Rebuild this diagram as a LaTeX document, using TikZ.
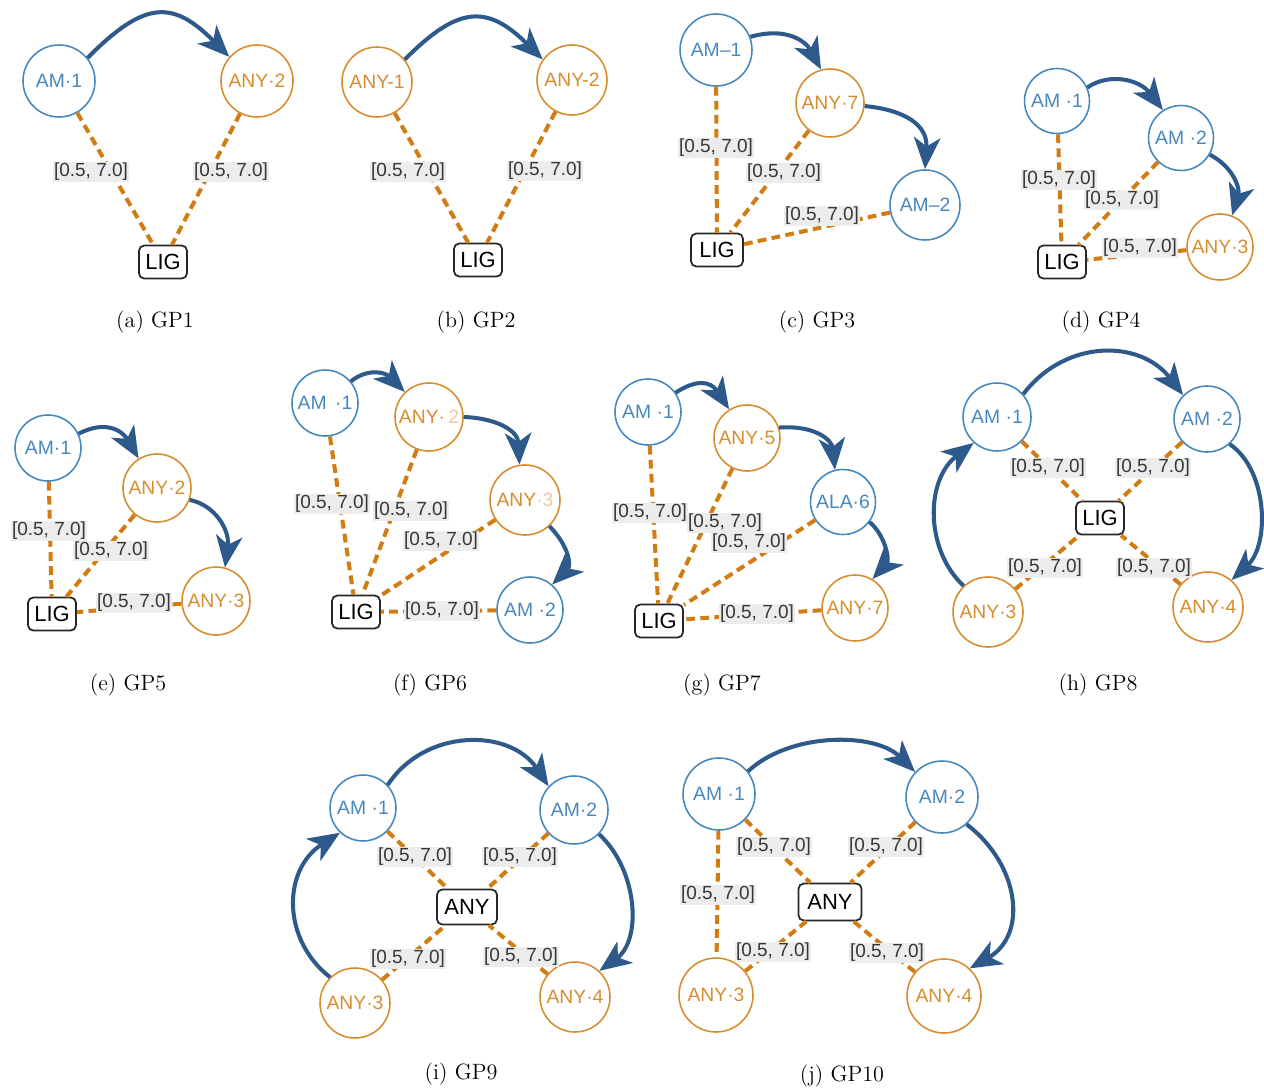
\documentclass[tikz,border=0pt]{standalone}
\usepackage{fontspec}
\newfontfamily\graphfont{Liberation Sans}
\usetikzlibrary{arrows.meta}
\definecolor{amblue}{RGB}{70,135,190}
\definecolor{anyorange}{RGB}{215,140,45}
\definecolor{anyfaint}{RGB}{238,200,160}
\definecolor{bondorange}{RGB}{210,125,20}
\definecolor{seqblue}{RGB}{45,90,138}
\definecolor{rangegray}{RGB}{236,236,236}
\definecolor{rangetext}{RGB}{55,55,55}
\tikzset{
  res/.style={circle, draw, line width=0.9pt, inner sep=0pt, minimum size=#1,
    font=\graphfont\fontsize{11}{13}\selectfont},
  res/.default=1.44cm,
  am/.style={res=#1, draw=amblue, text=amblue},
  am/.default=1.44cm,
  any/.style={res=#1, draw=anyorange, text=anyorange},
  any/.default=1.44cm,
  lig/.style={draw=black!85, line width=1pt, rounded corners=3pt, minimum width=#1,
    minimum height=0.66cm, inner sep=1pt, font=\graphfont\fontsize{12.5}{14}\selectfont},
  lig/.default=0.96cm,
  bond/.style={bondorange, line width=2.3pt, dash pattern=on 5pt off 3pt},
  seq/.style={seqblue, line width=2.3pt, -{Stealth[length=18pt,width=15pt,inset=5pt]}},
  rng/.style={fill=rangegray, text=rangetext, inner sep=0.6pt,
    font=\graphfont\fontsize{10.8}{12}\selectfont},
  subcap/.style={font=\fontsize{12.6}{14}\selectfont}
}
\begin{document}
\begin{tikzpicture}[x=0.02cm, y=-0.02cm]
    \useasboundingbox (0,0) rectangle (1264,1088);

    % (a) GP1
    \node[am] (a1) at (59,81) {AM·1};
    \node[any] (a2) at (257,81) {ANY·2};
    \node[lig] (aL) at (163,262) {LIG};
    \draw[bond] (a1) -- (aL);
    \draw[bond] (a2) -- (aL);
    \draw[seq] (a1.39) .. controls (145,0) and (173,0) .. (a2.139);
    \node[rng] (aR1) at (91,172) {[0.5, 7.0]};
    \node[rng] (aR2) at (231,172) {[0.5, 7.0]};
    \node[subcap] (aC) at (155,322) {(a) GP1};

    % (b) GP2
    \node[any=1.4cm] (b1) at (377,82) {ANY-1};
    \node[any=1.4cm] (b2) at (572,80) {ANY-2};
    \node[lig] (bL) at (478,260) {LIG};
    \draw[bond] (b1) -- (bL);
    \draw[bond] (b2) -- (bL);
    \draw[seq] (b1.39) .. controls (458,6) and (487,4) .. (b2.145);
    \node[rng] (bR1) at (408,172) {[0.5, 7.0]};
    \node[rng] (bR2) at (545,171) {[0.5, 7.0]};
    \node[subcap] (bC) at (476,322) {(b) GP2};

    % (c) GP3
    \node[am] (c1) at (716,50) {AM–1};
    \node[any=1.36cm] (c2) at (830,103) {ANY·7};
    \node[am=1.4cm] (c3) at (925,205) {AM–2};
    \node[lig=1.04cm] (cL) at (717,250) {LIG};
    \draw[bond] (c1) -- (cL);
    \draw[bond] (c2) -- (cL);
    \draw[bond] (c3) -- (cL);
    \draw[seq] (c1.21) .. controls (785,27) and (805,40) .. (c2.105);
    \draw[seq] (c2.-5) .. controls (905,110) and (928,125) .. (c3.90);
    \node[rng] (cR1) at (716,148) {[0.5, 7.0]};
    \node[rng] (cR2) at (784,173) {[0.5, 7.0]};
    \node[rng] (cR3) at (822,216) {[0.5, 7.0]};
    \node[subcap] (cC) at (817,322) {(c) GP3};

    % (d) GP4
    \node[am=1.3cm] (d1) at (1057,101) {AM ·1};
    \node[am=1.3cm] (d2) at (1181,138) {AM ·2};
    \node[any=1.32cm] (d3) at (1220,247) {ANY·3};
    \node[lig] (dL) at (1062,262) {LIG};
    \draw[bond] (d1) -- (dL);
    \draw[bond] (d2) -- (dL);
    \draw[bond] (d3) -- (dL);
    \draw[seq] (d1.24) .. controls (1110,72) and (1140,80) .. (d2.123);
    \draw[seq] (d2.-30) .. controls (1235,168) and (1240,190) .. (d3.69);
    \node[rng] (dR1) at (1059,180) {[0.5, 7.0]};
    \node[rng] (dR2) at (1122,200) {[0.5, 7.0]};
    \node[rng] (dR3) at (1140,248) {[0.5, 7.0]};
    \node[subcap] (dC) at (1101,322) {(d) GP4};

    % (e) GP5
    \node[am=1.32cm] (e1) at (48,448) {AM·1};
    \node[any=1.36cm] (e2) at (157,488) {ANY·2};
    \node[any=1.36cm] (e3) at (216,601) {ANY·3};
    \node[lig] (eL) at (52,614) {LIG};
    \draw[bond] (e1) -- (eL);
    \draw[bond] (e2) -- (eL);
    \draw[bond] (e3) -- (eL);
    \draw[seq] (e1.25) .. controls (105,420) and (122,430) .. (e2.122);
    \draw[seq] (e2.-20) .. controls (215,505) and (230,530) .. (e3.75);
    \node[rng] (eR1) at (49,531) {[0.5, 7.0]};
    \node[rng] (eR2) at (111,551) {[0.5, 7.0]};
    \node[rng] (eR3) at (134,603) {[0.5, 7.0]};
    \node[subcap] (eC) at (128,685) {(e) GP5};

    % (f) GP6
    \node[am=1.32cm] (f1) at (325,403) {AM \,·1};
    \node[any=1.36cm] (f2) at (429,417) {ANY·\,\textcolor{anyfaint}{2}};
    \node[any=1.4cm] (f3) at (525,500) {ANY\textcolor{anyfaint}{·3}};
    \node[am=1.32cm] (f4) at (530,610) {AM ·2};
    \node[lig] (fL) at (356,612) {LIG};
    \draw[bond] (f1) -- (fL);
    \draw[bond] (f2) -- (fL);
    \draw[bond] (f3) -- (fL);
    \draw[bond] (f4) -- (fL);
    \draw[seq] (f1.40) .. controls (368,368) and (385,372) .. (f2.134);
    \draw[seq] (f2.0) .. controls (495,418) and (518,430) .. (f3.99);
    \draw[seq] (f3.-47) .. controls (568,545) and (572,565) .. (f4.49);
    \node[rng] (fR1) at (332,504) {[0.5, 7.0]};
    \node[rng] (fR2) at (411,511) {[0.5, 7.0]};
    \node[rng] (fR3) at (441,541) {[0.5, 7.0]};
    \node[rng] (fR4) at (442,611) {[0.5, 7.0]};
    \node[subcap] (fC) at (430,685) {(f) GP6};

    % (g) GP7
    \node[am=1.32cm] (g1) at (648,412) {AM ·1};
    \node[any=1.32cm] (g2) at (747,438) {ANY·5};
    \node[am=1.3cm] (g3) at (843,502) {ALA·6};
    \node[any=1.32cm] (g4) at (855,608) {ANY·7};
    \node[lig] (gL) at (659,621) {LIG};
    \draw[bond] (g1) -- (gL);
    \draw[bond] (g2) -- (gL);
    \draw[bond] (g3) -- (gL);
    \draw[bond] (g4) -- (gL);
    \draw[seq] (g1.35) .. controls (695,380) and (710,380) .. (g2.122);
    \draw[seq] (g2.18) .. controls (815,425) and (832,440) .. (g3.104);
    \draw[seq] (g3.-37) .. controls (885,535) and (890,560) .. (g4.59);
    \node[rng] (gR1) at (650,513) {[0.5, 7.0]};
    \node[rng] (gR2) at (725,523) {[0.5, 7.0]};
    \node[rng] (gR3) at (749,543) {[0.5, 7.0]};
    \node[rng] (gR4) at (757,614) {[0.5, 7.0]};
    \node[subcap] (gC) at (722,685) {(g) GP7};

    % (h) GP8
    \node[am=1.36cm] (h1) at (997,417) {AM ·1};
    \node[am=1.32cm] (h2) at (1207,419) {AM ·2};
    \node[any=1.4cm] (h3) at (988,612) {ANY·3};
    \node[any=1.4cm] (h4) at (1208,607) {ANY·4};
    \node[lig] (hL) at (1100,518) {LIG};
    \draw[bond] (h1) -- (hL);
    \draw[bond] (h2) -- (hL);
    \draw[bond] (h3) -- (hL);
    \draw[bond] (h4) -- (hL);
    \draw[seq] (h1.41) .. controls (1065,339) and (1140,339) .. (h2.135);
    \draw[seq] (h2.-48) .. controls (1268,470) and (1270,545) .. (h4.49);
    \draw[seq] (h3.133) .. controls (925,550) and (925,480) .. (h1.228);
    \node[rng] (hR1) at (1048,468) {[0.5, 7.0]};
    \node[rng] (hR2) at (1153,468) {[0.5, 7.0]};
    \node[rng] (hR3) at (1045,568) {[0.5, 7.0]};
    \node[rng] (hR4) at (1154,568) {[0.5, 7.0]};
    \node[subcap] (hC) at (1098,685) {(h) GP8};

    % (i) GP9
    \node[am=1.32cm] (i1) at (363,808) {AM ·1};
    \node[am=1.36cm] (i2) at (574,810) {AM·2};
    \node[any=1.4cm] (i3) at (355,1003) {ANY·3};
    \node[any=1.4cm] (i4) at (575,997) {ANY·4};
    \node[lig=1.2cm, minimum height=0.7cm] (iX) at (467,907) {ANY};
    \draw[bond] (i1) -- (iX);
    \draw[bond] (i2) -- (iX);
    \draw[bond] (i3) -- (iX);
    \draw[bond] (i4) -- (iX);
    \draw[seq] (i1.43) .. controls (425,728) and (510,728) .. (i2.137);
    \draw[seq] (i2.-44) .. controls (638,870) and (642,940) .. (i4.47);
    \draw[seq] (i3.134) .. controls (282,940) and (282,870) .. (i1.227);
    \node[rng] (iR1) at (415,857) {[0.5, 7.0]};
    \node[rng] (iR2) at (520,857) {[0.5, 7.0]};
    \node[rng] (iR3) at (408,959) {[0.5, 7.0]};
    \node[rng] (iR4) at (521,957) {[0.5, 7.0]};
    \node[subcap] (iC) at (461,1074) {(i) GP9};

    % (j) GP10
    \node[am] (j1) at (719,794) {AM ·1};
    \node[am] (j2) at (942,797) {AM·2};
    \node[any=1.48cm] (j3) at (716,995) {ANY·3};
    \node[any=1.48cm] (j4) at (944,996) {ANY·4};
    \node[lig=1.26cm, minimum height=0.74cm] (jX) at (830,902) {ANY};
    \draw[bond] (j1) -- (jX);
    \draw[bond] (j2) -- (jX);
    \draw[bond] (j3) -- (jX);
    \draw[bond] (j4) -- (jX);
    \draw[bond] (j1) -- (j3);
    \draw[seq] (j1.38) .. controls (790,732) and (875,732) .. (j2.137);
    \draw[seq] (j2.-48) .. controls (1020,865) and (1028,935) .. (j4.47);
    \node[rng] (jR1) at (774,847) {[0.5, 7.0]};
    \node[rng] (jR2) at (886,847) {[0.5, 7.0]};
    \node[rng] (jR3) at (718,895) {[0.5, 7.0]};
    \node[rng] (jR4) at (773,952) {[0.5, 7.0]};
    \node[rng] (jR5) at (887,953) {[0.5, 7.0]};
    \node[subcap] (jC) at (842,1076) {(j) GP10};
\end{tikzpicture}
\end{document}
